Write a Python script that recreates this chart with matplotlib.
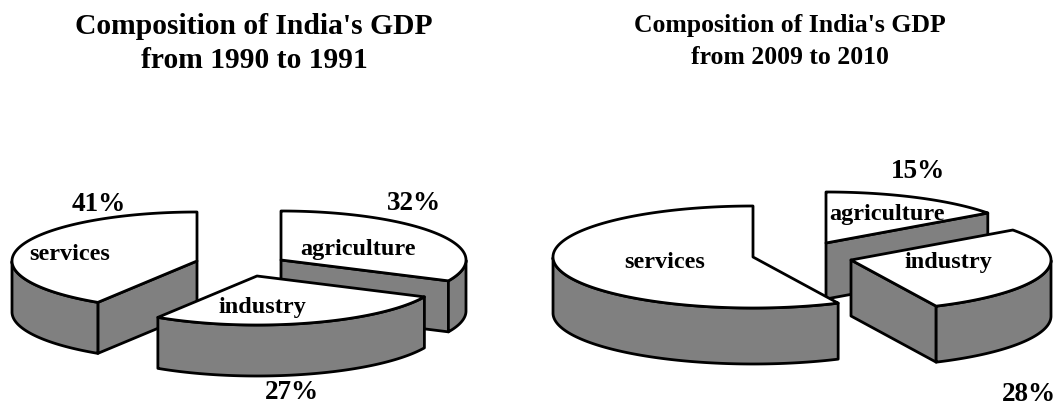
import numpy as np
import matplotlib
matplotlib.use("Agg")
import matplotlib.pyplot as plt
from matplotlib.patches import Polygon

labels = ["agriculture", "industry", "services"]
share_1990 = [32, 27, 41]
share_2009 = [15, 28, 57]
title_1990 = "Composition of India's GDP\nfrom 1990 to 1991"
title_2009 = "Composition of India's GDP\nfrom 2009 to 2010"

W, H = 1057, 406
fig = plt.figure(figsize=(W / 100, H / 100), dpi=100)
ax = fig.add_axes([0, 0, 1, 1])
ax.set_xlim(0, W)
ax.set_ylim(H, 0)
ax.axis("off")
plt.rcParams["font.family"] = ["Liberation Serif"]
GREY = "#808080"
LW = 2.0


def wedge(center, t1, t2, rx, ry, depth, z):
    cx, cy = center
    th = np.radians(np.linspace(t1, t2, 200))
    xs = cx + rx * np.sin(th)
    ys = cy - ry * np.cos(th)
    for t, x, y, visible in [(t1, xs[0], ys[0], np.sin(np.radians(t1)) < -1e-6),
                             (t2, xs[-1], ys[-1], np.sin(np.radians(t2)) > 1e-6)]:
        if visible:
            ax.add_patch(Polygon([(cx, cy), (x, y), (x, y + depth), (cx, cy + depth)],
                                 fc=GREY, ec="k", lw=LW, zorder=z, joinstyle="round"))
    mask = np.cos(th) <= 0
    if mask.any():
        fx, fy = xs[mask], ys[mask]
        pts = np.r_[np.c_[fx, fy], np.c_[fx[::-1], fy[::-1] + depth]]
        ax.add_patch(Polygon(pts, fc=GREY, ec="k", lw=LW, zorder=z, joinstyle="round"))
    pts = np.r_[[(cx, cy)], np.c_[xs, ys]]
    ax.add_patch(Polygon(pts, fc="w", ec="k", lw=LW, zorder=z + 0.5, joinstyle="round"))


def pie(values, apexes, rx, ry, depth):
    total = sum(values)
    start = 0
    order = np.argsort([a[1] for a in apexes])
    spans = []
    for v in values:
        spans.append((start, start + v / total * 360))
        start += v / total * 360
    for k, i in enumerate(order):
        wedge(apexes[i], spans[i][0], spans[i][1], rx, ry, depth, 2 + k)


pie(share_1990, [(281, 261), (257, 277), (197, 262)], 185, 49, 51)
pie(share_2009, [(826, 244), (851, 261), (753, 258)], 200, 51, 56)

font = dict(family="Liberation Serif", weight="bold", ha="center", va="center", zorder=20)
title_font = dict(family="Liberation Serif", weight="bold", ha="center", va="baseline", zorder=20)
ax.text(254, 68, title_1990, fontsize=21.3, linespacing=1.33, **title_font)
ax.text(790, 64, title_2009, fontsize=18.5, linespacing=1.49, **title_font)

for name, (x, y) in zip(labels, [(358, 249), (262, 308), (70, 255)]):
    ax.text(x, y, name, fontsize=17.5, **font)
for name, (x, y) in zip(labels, [(887, 214.5), (948, 263), (665, 262.5)]):
    ax.text(x, y, name, fontsize=17.5, **font)
for v, (x, y) in zip(share_1990, [(414, 204), (292, 393), (99, 205)]):
    ax.text(x, y, f"{v}%", fontsize=19.5, **font)
for v, (x, y) in zip(share_2009[:2], [(918, 172), (1029, 395)]):
    ax.text(x, y, f"{v}%", fontsize=19.5, **font)

fig.savefig("out.png", dpi=100)
